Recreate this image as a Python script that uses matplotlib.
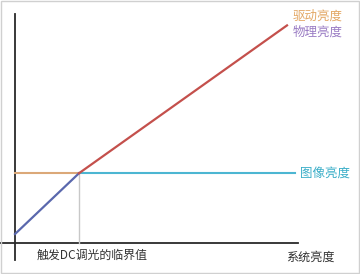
import matplotlib
matplotlib.use('Agg')
import matplotlib.pyplot as plt
from matplotlib.patches import Rectangle

plt.rcParams['font.family'] = ['Noto Sans CJK SC', 'DejaVu Sans']

# system brightness (x) and brightness values (y), arbitrary units
sys_brightness = [0.0, 1.0, 4.25]
physical = [0.14, 1.09, 3.40]      # 物理亮度 / 驱动亮度
threshold_x = 1.0
image_level = 1.09                  # 图像亮度
image_end = 4.375
drive_start = 0.0

fig = plt.figure(figsize=(3.6, 2.74), dpi=100)
ax = fig.add_axes([0, 0, 1, 1])
ax.set_xlim(-15 / 64, 345 / 64)
ax.set_ylim(-31 / 64, 243 / 64)
ax.axis('off')

# axes lines
ax.plot([0, 0], [-0.27, 3.58], color='#2a2a2a', lw=1.3)
ax.plot([-0.3, 4.42], [0, 0], color='#2a2a2a', lw=1.3)

# threshold guide
ax.plot([threshold_x, threshold_x], [0, image_level], color='#c8c8c8', lw=1.0)

# orange drive line before threshold
ax.plot([drive_start, threshold_x], [image_level, image_level], color='#dba878', lw=1.5)
# image brightness after threshold
ax.plot([threshold_x, image_end], [image_level, image_level], color='#4cb6d2', lw=1.5)
# physical brightness
ax.plot(sys_brightness[:2], physical[:2], color='#5a68ad', lw=1.6)
ax.plot(sys_brightness[1:], physical[1:], color='#c4504c', lw=1.6)

ax.text(4.34, 3.55, '驱动亮度', color='#e3a866', fontsize=9, ha='left', va='center')
ax.text(4.34, 3.29, '物理亮度', color='#9a7cc4', fontsize=9, ha='left', va='center')
ax.text(4.45, image_level, '图像亮度', color='#3aaec8', fontsize=9, ha='left', va='center')
ax.text(0.34, -0.20, '触发DC调光的临界值', color='#333333', fontsize=8.6, ha='left', va='center')
ax.text(4.23, -0.22, '系统亮度', color='#333333', fontsize=8.7, ha='left', va='center')

fig.patches.append(Rectangle((0.003, 0.004), 0.994, 0.992, transform=fig.transFigure,
                             fill=False, edgecolor='#d0d0d0', lw=1.0))

fig.savefig('out.png', dpi=100)
